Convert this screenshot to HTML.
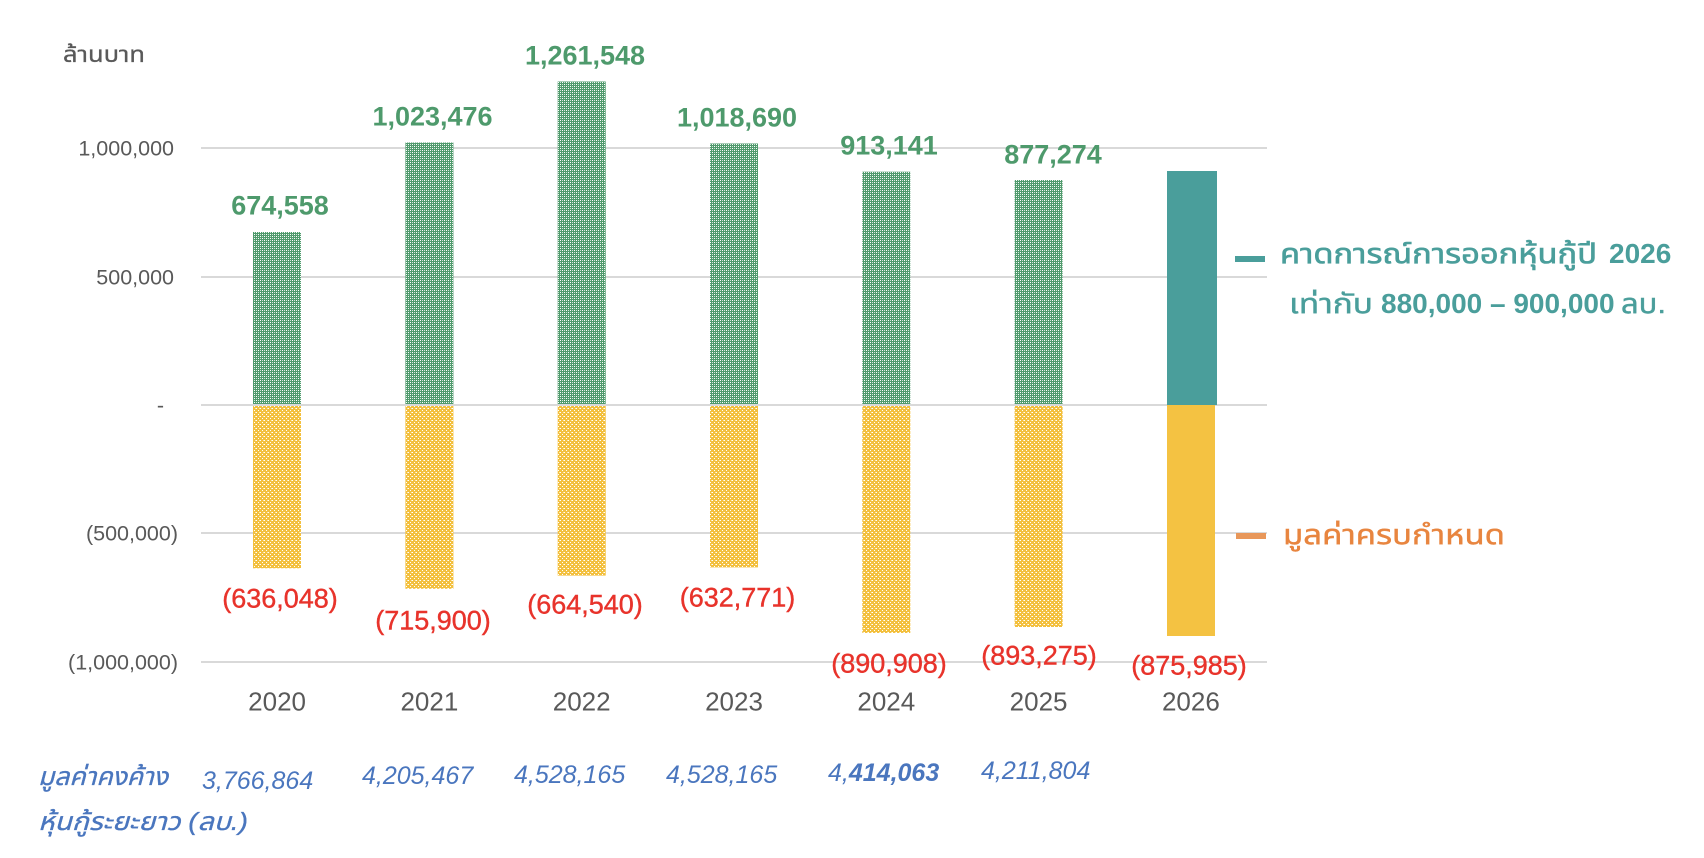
<!DOCTYPE html>
<html>
<head>
<meta charset="utf-8">
<style>
  html, body { margin: 0; padding: 0; background: #ffffff; }
  body { width: 1704px; height: 858px; overflow: hidden; }
  svg { display: block; }
  text { font-family: "Liberation Sans", "Noto Sans Thai", "Noto Sans Thai UI", "Loma", "Garuda", "Tlwg Typo", "Waree", "Norasi", "DejaVu Sans", sans-serif; }
</style>
</head>
<body>
<svg width="1704" height="858" viewBox="0 0 1704 858" xmlns="http://www.w3.org/2000/svg">
  <defs>
    <pattern id="pg" width="4" height="4" patternUnits="userSpaceOnUse">
      <rect width="4" height="4" fill="#4f9a6c"/>
      <rect x="0" y="0" width="1" height="1" fill="#ffffff"/>
      <rect x="2" y="2" width="1" height="1" fill="#ffffff"/>
      <rect x="2" y="0" width="1" height="1" fill="#cfe5d7"/>
      <rect x="0" y="2" width="1" height="1" fill="#cfe5d7"/>
    </pattern>
    <pattern id="py" width="4" height="4" patternUnits="userSpaceOnUse">
      <rect width="4" height="4" fill="#f3c03e"/>
      <rect x="0" y="0" width="1" height="1" fill="#ffffff"/>
      <rect x="2" y="2" width="1" height="1" fill="#ffffff"/>
      <rect x="3" y="0" width="1" height="1" fill="#fbe6b0"/>
    </pattern>
  </defs>

  <!-- unit label -->
  <text x="63" y="62" font-size="22" fill="#595959" stroke="#595959" stroke-width="0.3" textLength="82" lengthAdjust="spacingAndGlyphs">ล้านบาท</text>

  <!-- gridlines -->
  <g stroke="#d9d9d9" stroke-width="2">
    <line x1="201" y1="148" x2="1267" y2="148"/>
    <line x1="201" y1="277" x2="1267" y2="277"/>
    <line x1="201" y1="405" x2="1267" y2="405"/>
    <line x1="201" y1="533" x2="1267" y2="533"/>
    <line x1="201" y1="662" x2="1267" y2="662"/>
  </g>

  <!-- y axis labels -->
  <g font-size="21.5" fill="#595959" text-anchor="end">
    <text x="174" y="155.7">1,000,000</text>
    <text x="174" y="284.7">500,000</text>
    <text x="164" y="412.7">-</text>
    <text x="178" y="540.7">(500,000)</text>
    <text x="178" y="669.7">(1,000,000)</text>
  </g>

  <!-- green bars -->
  <g fill="url(#pg)">
    <rect x="253" y="232" width="48" height="172"/>
    <rect x="405.4" y="142.5" width="48" height="261.5"/>
    <rect x="557.7" y="81.5" width="48" height="322.5"/>
    <rect x="710" y="143.5" width="48" height="260.5"/>
    <rect x="862.3" y="171.7" width="48" height="232.3"/>
    <rect x="1014.6" y="180" width="48" height="224"/>
  </g>
  <!-- yellow bars -->
  <g fill="url(#py)">
    <rect x="253" y="406" width="48" height="162.3"/>
    <rect x="405.4" y="406" width="48" height="182.8"/>
    <rect x="557.7" y="406" width="48" height="169.6"/>
    <rect x="710" y="406" width="48" height="161.4"/>
    <rect x="862.3" y="406" width="48" height="227"/>
    <rect x="1014.6" y="406" width="48" height="221"/>
  </g>
  <!-- 2026 solid bars -->
  <rect x="1167" y="171" width="50" height="234" fill="#4a9e9b"/>
  <rect x="1167" y="405" width="48" height="231" fill="#f4c242"/>

  <!-- green value labels -->
  <g font-size="27" font-weight="bold" fill="#4e9a6c" text-anchor="middle">
    <text x="280" y="214.7">674,558</text>
    <text x="432.5" y="125.7">1,023,476</text>
    <text x="585" y="64.7">1,261,548</text>
    <text x="737" y="126.7">1,018,690</text>
    <text x="889" y="154.7">913,141</text>
    <text x="1053" y="163.7">877,274</text>
  </g>

  <!-- red value labels -->
  <g font-size="27" fill="#e8332b" stroke="#e8332b" stroke-width="0.4" text-anchor="middle">
    <text x="280" y="607.7">(636,048)</text>
    <text x="433" y="629.7">(715,900)</text>
    <text x="585" y="613.7">(664,540)</text>
    <text x="737.5" y="606.7">(632,771)</text>
    <text x="889" y="672.7">(890,908)</text>
    <text x="1039" y="664.7">(893,275)</text>
    <text x="1189" y="674.7">(875,985)</text>
  </g>

  <!-- x axis labels -->
  <g font-size="26" fill="#595959" text-anchor="middle">
    <text x="277.1" y="710.3">2020</text>
    <text x="429.4" y="710.3">2021</text>
    <text x="581.7" y="710.3">2022</text>
    <text x="734" y="710.3">2023</text>
    <text x="886.3" y="710.3">2024</text>
    <text x="1038.6" y="710.3">2025</text>
    <text x="1190.9" y="710.3">2026</text>
  </g>

  <!-- legend -->
  <rect x="1235" y="256" width="30" height="6" fill="#4a9e9b"/>
  <text y="263" font-size="28" fill="#4a9e9b">
    <tspan x="1280" stroke="#4a9e9b" stroke-width="0.6" textLength="317" lengthAdjust="spacingAndGlyphs">คาดการณ์การออกหุ้นกู้ปี</tspan>
    <tspan x="1609" font-weight="bold">2026</tspan>
  </text>
  <text y="313" font-size="28" fill="#4a9e9b">
    <tspan x="1289" stroke="#4a9e9b" stroke-width="0.4" textLength="84" lengthAdjust="spacingAndGlyphs">เท่ากับ</tspan>
    <tspan x="1381" font-weight="bold">880,000 – 900,000</tspan>
    <tspan x="1621" stroke="#4a9e9b" stroke-width="0.4" textLength="45" lengthAdjust="spacingAndGlyphs">ลบ.</tspan>
  </text>

  <rect x="1236" y="533" width="30" height="6" fill="#e8975a"/>
  <text x="1283" y="544" font-size="28" fill="#e8853f" stroke="#e8853f" stroke-width="0.4" textLength="222" lengthAdjust="spacingAndGlyphs">มูลค่าครบกำหนด</text>

  <!-- outstanding values row -->
  <g font-size="25" font-style="italic" fill="#4a76be">
    <text x="38" y="785" stroke="#4a76be" stroke-width="0.3" textLength="130" lengthAdjust="spacingAndGlyphs">มูลค่าคงค้าง</text>
    <text x="38" y="830" stroke="#4a76be" stroke-width="0.3" textLength="210" lengthAdjust="spacingAndGlyphs">หุ้นกู้ระยะยาว (ลบ.)</text>
    <text x="202" y="789">3,766,864</text>
    <text x="362" y="784">4,205,467</text>
    <text x="514" y="783">4,528,165</text>
    <text x="666" y="783">4,528,165</text>
    <text x="828" y="781">4,<tspan font-weight="bold">414,063</tspan></text>
    <text x="981" y="779">4,211,804</text>
  </g>
</svg>
</body>
</html>
